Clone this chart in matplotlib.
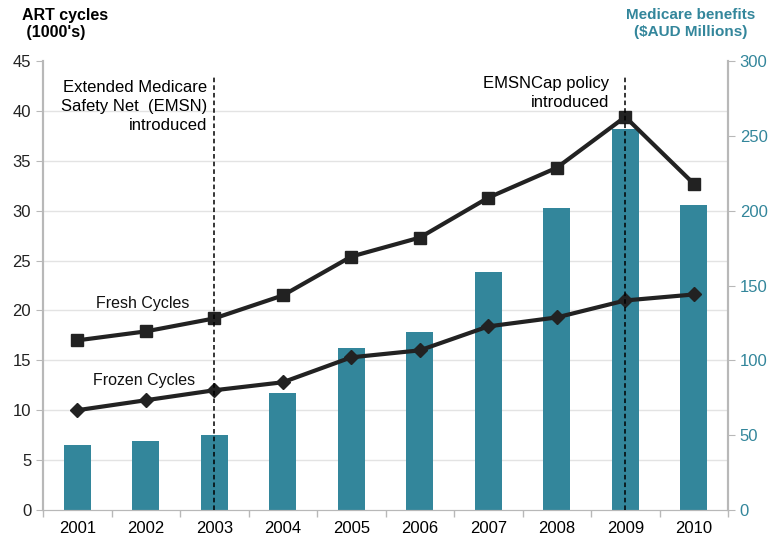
import matplotlib
matplotlib.use("Agg")
import matplotlib.pyplot as plt
import numpy as np

plt.rcParams['font.family'] = ['Liberation Sans', 'DejaVu Sans']

years = ["2001", "2002", "2003", "2004", "2005", "2006", "2007", "2008", "2009", "2010"]
medicare_benefits = [43.5, 46, 50, 78.5, 108, 119, 159, 202, 254.5, 204]
fresh_cycles = [17.0, 17.9, 19.2, 21.5, 25.4, 27.3, 31.3, 34.3, 39.4, 32.7]
frozen_cycles = [10.0, 11.0, 12.0, 12.8, 15.3, 16.0, 18.4, 19.3, 21.0, 21.6]
left_ticks = [0, 5, 10, 15, 20, 25, 30, 35, 40, 45]
right_ticks = [0, 50, 100, 150, 200, 250, 300]

teal = "#33869b"
dark = "#222222"
gray = "#b8b8b8"

fig = plt.figure(figsize=(7.68, 5.37), dpi=100)
ax = fig.add_axes([43/768, 1-510/537, 685/768, 449/537])
ax2 = ax.twinx()

x = np.arange(len(years))

# bars on right axis
ax2.bar(x, medicare_benefits, width=0.4, color=teal, zorder=2)
ax2.set_ylim(0, 300)
ax2.set_yticks(right_ticks)

ax.set_ylim(0, 45)
ax.set_yticks(left_ticks)
ax.set_xlim(-0.5, len(years) - 0.5)
for t in left_ticks[1:-1]:
    ax2.axhline(t * 300 / 45, color="#e3e3e3", linewidth=1, zorder=0)

# bring left axes (lines) above the bars
ax.set_zorder(ax2.get_zorder() + 1)
ax.patch.set_visible(False)

ax.plot(x, fresh_cycles, color=dark, linewidth=3, marker="s", markersize=9, zorder=5)
ax.plot(x, frozen_cycles, color=dark, linewidth=3, marker="D", markersize=7, zorder=5)

# vertical dashed policy lines
for idx in (2, 8):
    ax.plot([idx, idx], [0, 43.6], color="black", linestyle=(0, (3, 2)), linewidth=1.1, zorder=6)

ax.set_xticks(x)
ax.set_xticklabels(years)
ax.set_xticks(np.arange(-0.5, len(years), 1.0), minor=True)
ax.tick_params(axis="x", which="major", length=0, labelsize=12, pad=8, colors="black")
ax.tick_params(axis="x", which="minor", length=5, color=gray, width=1)
ax.tick_params(axis="y", length=5, color=gray, labelsize=12, labelcolor="#222222")
ax2.tick_params(axis="y", length=5, color=gray, labelsize=12, labelcolor=teal)

for a in (ax, ax2):
    a.spines["top"].set_visible(False)
    a.spines["left"].set_color(gray)
    a.spines["right"].set_color(gray)
    a.spines["bottom"].set_color(gray)
    a.spines["left"].set_linewidth(1.5)
    a.spines["right"].set_linewidth(1.5)

# annotations
ax.text(1.9, 43.1, "Extended Medicare\nSafety Net  (EMSN)\nintroduced", ha="right", va="top",
        fontsize=12, linespacing=1.35, color="black")
ax.text(7.77, 43.5, "EMSNCap policy\nintroduced", ha="right", va="top",
        fontsize=12, linespacing=1.35, color="black")
ax.text(0.95, 20.7, "Fresh Cycles", ha="center", va="center", fontsize=11.5, color="#111111")
ax.text(0.97, 12.95, "Frozen Cycles", ha="center", va="center", fontsize=11.5, color="#111111")

# axis titles
fig.text(22/768, 1-8/537, "ART cycles\n (1000's)", ha="left", va="top", fontsize=11.5,
         fontweight="bold", linespacing=1.2, color="black")
fig.text(755/768, 1-8/537, "Medicare benefits\n($AUD Millions)", ha="right", va="top", fontsize=11,
         fontweight="bold", linespacing=1.3, color=teal, multialignment="center")

fig.savefig("out.png", dpi=100)
